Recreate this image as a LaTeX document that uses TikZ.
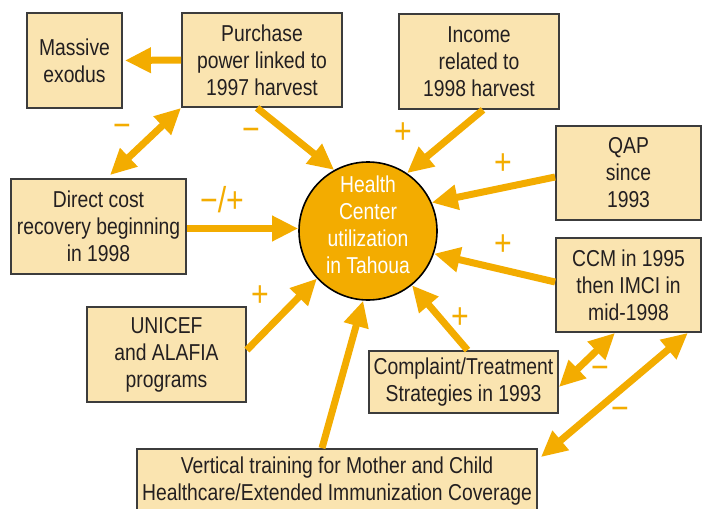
\documentclass[tikz,border=0pt]{standalone}
\usepackage{fontspec}
\setmainfont{Liberation Sans}[FakeStretch=0.84]
\usetikzlibrary{arrows.meta,calc}

\definecolor{arrowc}{RGB}{243,172,0}
\definecolor{boxc}{RGB}{250,228,176}
\definecolor{edgec}{RGB}{60,60,60}
\definecolor{inkc}{RGB}{35,31,32}

\begin{document}
\begin{tikzpicture}[x=0.5pt,y=-0.5pt,
	box/.style={draw=edgec,line width=0.9pt,fill=boxc,text=inkc,align=center,
		inner sep=0pt,font=\fontsize{11.5}{13.5}\selectfont},
	flow/.style={draw=arrowc,line width=3.5pt,-{Triangle[length=13pt,width=12pt]}},
	both/.style={flow,{Triangle[length=13pt,width=12pt]}-{Triangle[length=13pt,width=12pt]}},
	sign/.style={text=arrowc,font=\fontsize{18}{18}\selectfont,inner sep=0pt}]

	% ---- frame

	\useasboundingbox (0,0) rectangle (710,508);
	\clip (0,0) rectangle (710,508);

	% ---- boxes

	\node[box,minimum width=47.5pt,minimum height=47.5pt] (exodus) at (74.5,60.5) {Massive\\exodus};
	\node[box,minimum width=80pt,minimum height=47pt] (purchase) at (262,60) {Purchase\\power linked to\\1997 harvest};
	\node[box,minimum width=80pt,minimum height=47.5pt] (income) at (479,61.5) {Income\\related to\\1998 harvest};
	\node[box,minimum width=72.5pt,minimum height=47pt] (qap) at (628.5,173) {QAP\\since\\1993};
	\node[box,minimum width=72.5pt,minimum height=47pt] (ccm) at (628.5,285) {CCM in 1995\\then IMCI in\\mid-1998};
	\node[box,minimum width=87.5pt,minimum height=47.5pt] (direct) at (98.5,226.5) {Direct cost\\recovery beginning\\in 1998};
	\node[box,minimum width=79.5pt,minimum height=47.5pt] (unicef) at (166.5,354.5) {UNICEF\\and ALAFIA\\programs};
	\node[box,minimum width=94.5pt,minimum height=31pt] (complaint) at (463.5,382) {Complaint/Treatment\\Strategies in 1993};
	\node[box,minimum width=200pt,minimum height=32pt] (vertical) at (337,481) {Vertical training for Mother and Child\\Healthcare/Extended Immunization Coverage};

	% ---- center

	\node[circle,draw=black,line width=0.8pt,fill=arrowc,minimum size=69pt,inner sep=0pt] (health) at (368,231) {};
	\node[text=white,align=center,inner sep=0pt,font=\fontsize{11.5}{13.5}\selectfont] (healthtxt) at ([yshift=3pt]health.center) {Health\\Center\\utilization\\in Tahoua};

	% ---- arrows

	\draw[flow,shorten >=1pt] (purchase.west) -- (exodus.east);
	\draw[both] (purchase.south west) -- ([xshift=5.75pt,yshift=1.5pt]direct.north);
	\draw[flow] ([xshift=-2.5pt]purchase.south) -- (health.119);
	\draw[flow] ([xshift=2pt]income.south) -- (health.56);
	\draw[flow] ([yshift=-2pt]qap.west) -- (health.24);
	\draw[flow] ([yshift=1.5pt]ccm.west) -- (health.-19);
	\draw[flow] ([yshift=-1pt]direct.east) -- ([yshift=-1pt]direct.east -| health.west);
	\draw[flow] ([yshift=2.25pt]unicef.east) -- (health.223);
	\draw[flow] ([xshift=2pt]complaint.north) -- (health.-51);
	\draw[flow] ([xshift=-7.5pt]vertical.north) -- (health.-94);
	\draw[both] ([xshift=-6.75pt]ccm.south) -- ([yshift=-2.5pt]complaint.east);
	\draw[both] ([xshift=-7pt]ccm.south east) -- ([xshift=1.5pt,yshift=-4.5pt]vertical.north east);

	% ---- signs

	\node[sign] (s1) at (122,131) {−};
	\node[sign] (s2) at (251,135) {−};
	\node[sign] (s3) at (403,133) {+};
	\node[sign] (s4) at (503,164) {+};
	\node[sign] (s5) at (222,200) {−/+};
	\node[sign] (s6) at (260,296) {+};
	\node[sign] (s7) at (503,245) {+};
	\node[sign] (s8) at (460,318) {+};
	\node[sign] (s9) at (600,373) {−};
	\node[sign] (s10) at (620,414) {−};

\end{tikzpicture}
\end{document}
